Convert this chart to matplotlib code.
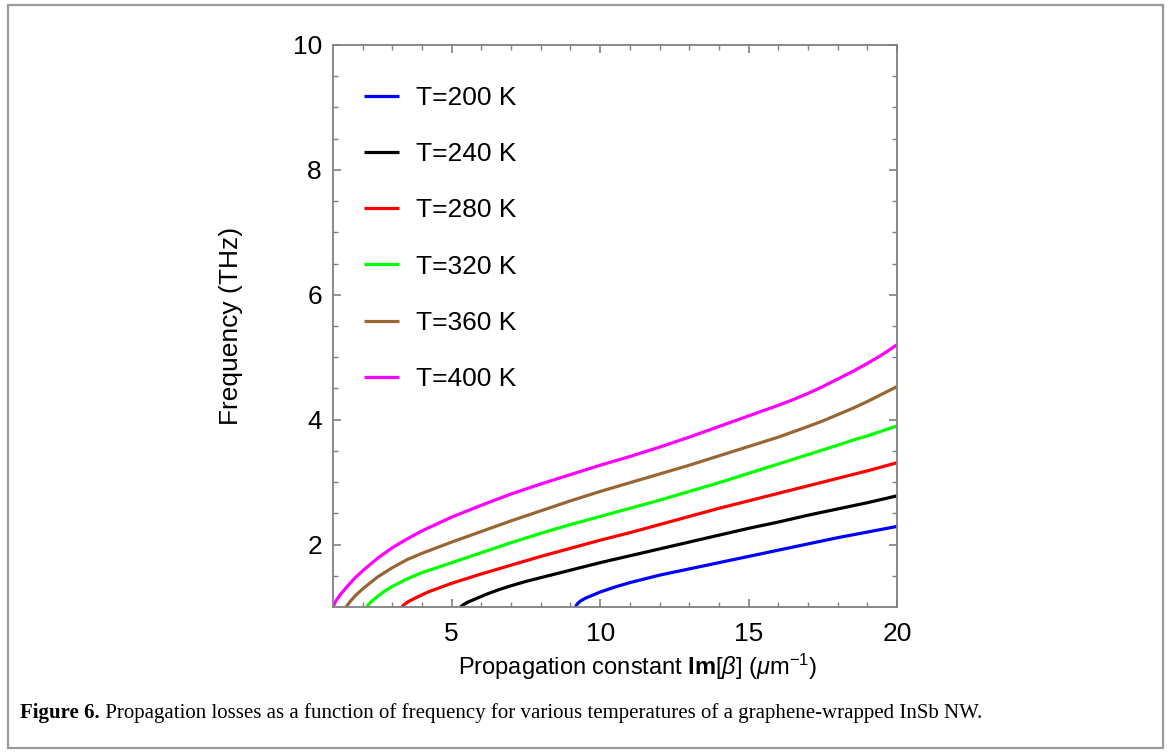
import matplotlib
matplotlib.use("Agg")
import matplotlib.pyplot as plt
from matplotlib.patches import Rectangle

plt.rcParams['font.family'] = ['Liberation Sans', 'DejaVu Sans']
plt.rcParams['mathtext.fontset'] = 'custom'
plt.rcParams['mathtext.rm'] = 'Liberation Sans'
plt.rcParams['mathtext.it'] = 'Liberation Sans:italic'
plt.rcParams['mathtext.bf'] = 'Liberation Sans:bold'

# ---- data ----
labels = ["T=200 K", "T=240 K", "T=280 K", "T=320 K", "T=360 K", "T=400 K"]
colors = ["#0000ff", "#000000", "#ff0000", "#00ff00", "#996633", "#ff00ff"]

x_200 = [9.18, 9.2, 9.25, 9.35, 9.5, 9.75, 10, 10.5, 11, 12, 13, 14, 15, 16, 17, 18, 19, 20]
y_200 = [1.0, 1.03, 1.06, 1.10, 1.14, 1.19, 1.24, 1.32, 1.39, 1.51, 1.61, 1.71, 1.81, 1.91, 2.01, 2.11, 2.20, 2.29]

x_240 = [5.29, 5.4, 5.55, 5.8, 6.2, 6.6, 7, 7.5, 8, 9, 10, 11, 12, 13, 14, 15, 16, 17, 18, 19, 20]
y_240 = [1.0, 1.04, 1.08, 1.13, 1.21, 1.28, 1.34, 1.41, 1.47, 1.59, 1.71, 1.82, 1.93, 2.04, 2.15, 2.26, 2.36, 2.47, 2.57, 2.67, 2.78]

x_280 = [3.32, 3.4, 3.55, 3.8, 4.2, 4.6, 5, 5.5, 6, 7, 8, 9, 10, 11, 12, 13, 14, 15, 16, 17, 18, 19, 20]
y_280 = [1.0, 1.04, 1.09, 1.15, 1.24, 1.31, 1.38, 1.455, 1.53, 1.67, 1.81, 1.94, 2.07, 2.19, 2.32, 2.45, 2.58, 2.70, 2.82, 2.94, 3.06, 3.18, 3.31]

x_320 = [2.14, 2.2, 2.3, 2.45, 2.7, 3.0, 3.5, 4.0, 4.5, 5, 6, 7, 8, 9, 10, 11, 12, 13, 14, 15, 16, 17, 18, 18.5, 19, 19.5, 20]
y_320 = [1.0, 1.04, 1.09, 1.15, 1.24, 1.33, 1.45, 1.55, 1.63, 1.71, 1.87, 2.03, 2.18, 2.32, 2.45, 2.58, 2.71, 2.85, 2.99, 3.14, 3.29, 3.44, 3.59, 3.67, 3.74, 3.82, 3.90]

x_360 = [1.44, 1.5, 1.6, 1.75, 2.0, 2.5, 3.0, 3.5, 4.0, 4.5, 5, 6, 7, 8, 9, 10, 11, 12, 13, 14, 15, 16, 17, 17.5, 18, 18.5, 19, 19.5, 20]
y_360 = [1.0, 1.04, 1.10, 1.18, 1.29, 1.48, 1.63, 1.76, 1.86, 1.95, 2.04, 2.21, 2.38, 2.54, 2.70, 2.85, 2.99, 3.13, 3.27, 3.42, 3.57, 3.72, 3.89, 3.98, 4.08, 4.18, 4.29, 4.41, 4.53]

x_400 = [1.0, 1.1, 1.25, 1.5, 1.75, 2.0, 2.5, 3.0, 3.5, 4.0, 4.5, 5, 6, 7, 8, 9, 10, 11, 12, 13, 14, 15, 16, 16.5, 17, 17.5, 18, 18.5, 19, 19.5, 20]
y_400 = [1.0, 1.10, 1.20, 1.34, 1.47, 1.58, 1.78, 1.95, 2.09, 2.22, 2.33, 2.44, 2.63, 2.81, 2.97, 3.12, 3.27, 3.41, 3.56, 3.72, 3.89, 4.06, 4.23, 4.32, 4.42, 4.53, 4.65, 4.77, 4.90, 5.04, 5.20]

xs = [x_200, x_240, x_280, x_320, x_360, x_400]
ys = [y_200, y_240, y_280, y_320, y_360, y_400]

x_ticks = [5, 10, 15, 20]
y_ticks = [2, 4, 6, 8, 10]

caption_bold = "Figure 6."
caption_text = " Propagation losses as a function of frequency for various temperatures of a graphene-wrapped InSb NW."

# ---- figure ----
fig = plt.figure(figsize=(11.71, 7.55), dpi=100)
fig.patches.append(Rectangle((8/1171, 1 - 748/755), (1163-8)/1171, (748-5)/755,
                             transform=fig.transFigure, fill=False,
                             edgecolor="#9a9a9a", linewidth=1.6))

ax = fig.add_axes([333/1171, 1 - 607/755, (897-333)/1171, (607-45)/755])

for x, y, c, lab in zip(xs, ys, colors, labels):
    ax.plot(x, y, color=c, lw=2.3, label=lab, solid_capstyle='butt',
            solid_joinstyle='round')

ax.set_xlim(1, 20)
ax.set_ylim(1, 10)
ax.set_xticks(x_ticks)
ax.set_yticks(y_ticks)
ax.set_xticks([v for v in range(2, 20) if v not in x_ticks], minor=True)
ax.set_yticks([v/2 for v in range(3, 20) if (v/2) not in y_ticks], minor=True)
ax.tick_params(which='both', direction='in', top=True, right=True,
               color="#808080", labelsize=19, labelcolor='black')
ax.tick_params(which='major', length=6, width=1.2)
ax.tick_params(axis='x', which='major', pad=11)
ax.tick_params(axis='y', which='major', pad=8)
ax.tick_params(which='minor', length=3.5, width=1.0)
for s in ax.spines.values():
    s.set_color("#808080")
    s.set_linewidth(1.3)

ax.set_ylabel("Frequency (THz)", fontsize=19)
ax.yaxis.set_label_coords(-0.16, 0.5)
ax.set_xlabel(r"Propagation constant $\mathbf{Im}[\mathit{\beta}]$ ($\mathit{\mu}$m$^{-1}$)", fontsize=17)
ax.xaxis.set_label_coords(0.54, -0.08)

leg = ax.legend(loc='upper left', bbox_to_anchor=(0.0556, 0.927), frameon=False,
                fontsize=19, handlelength=1.33, handletextpad=0.64,
                labelspacing=1.22, borderaxespad=0, borderpad=0)

t = fig.text(20/1171, 1 - 713/755, caption_bold, fontsize=15, fontweight='bold',
             family='Liberation Serif', va='center', ha='left')
fig.canvas.draw()
bb = t.get_window_extent()
fig.text(bb.x1/1171, 1 - 713/755, caption_text, fontsize=15,
         family='Liberation Serif', va='center', ha='left')

fig.savefig("out.png", dpi=100)
